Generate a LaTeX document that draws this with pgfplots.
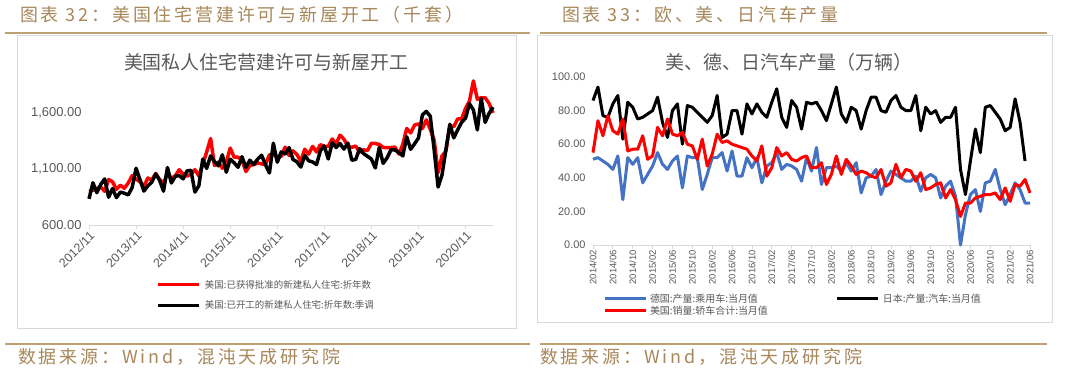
\documentclass[border=0pt]{standalone}
\usepackage{pgfplots}
\usepackage{pgfplotstable}
\pgfplotsset{compat=1.18}
\usepackage{fontspec}
\setmainfont{Liberation Sans}
\newfontfamily\cjk{Noto Sans CJK SC}
\newfontfamily\cjkhead[LetterSpace=16]{Noto Sans CJK SC}
\definecolor{gold}{HTML}{A8875A}
\definecolor{rulec}{HTML}{BFA071}
\definecolor{tgray}{HTML}{595959}
\definecolor{lgray}{HTML}{D9D9D9}
\definecolor{xblue}{HTML}{4472C4}

% US building permits (thousand units, SAAR), 2012/11 - 2021/06
\pgfplotstableread[header=false]{
900
909
925
939
900
1005
985
918
954
927
974
1039
1007
986
945
1018
1000
1059
1005
973
1057
1016
1038
1092
1052
1035
1053
1093
1038
1140
1250
1370
1130
1161
1105
1161
1285
1204
1204
1177
1076
1130
1138
1153
1144
1139
1225
1229
1201
1210
1293
1219
1260
1228
1168
1275
1230
1300
1250
1316
1298
1300
1366
1323
1400
1364
1301
1292
1303
1249
1270
1263
1328
1326
1317
1291
1288
1290
1294
1232
1317
1460
1420
1490
1500
1460
1536
1452
1356
1066
1216
1258
1483
1476
1545
1545
1639
1704
1883
1720
1733
1733
1683
1598
}\permits

% US housing starts (thousand units, SAAR), 2012/11 - 2021/06
\pgfplotstableread[header=false]{
833
976
888
962
1010
847
925
844
893
883
868
934
1105
1003
902
949
981
1055
998
901
1112
974
1034
1040
1011
1082
1087
893
949
1186
1104
1215
1165
1127
1225
1070
1186
1154
1114
1208
1113
1177
1139
1187
1221
1136
1063
1328
1159
1251
1231
1290
1184
1163
1116
1220
1172
1162
1138
1262
1304
1188
1333
1290
1326
1276
1329
1177
1184
1280
1236
1212
1187
1108
1291
1149
1199
1270
1268
1246
1215
1386
1274
1323
1375
1580
1612
1569
1269
938
1046
1273
1497
1376
1448
1514
1552
1680
1625
1447
1725
1514
1594
1650
}\starts

% Germany passenger car production, 2014/02 - 2021/06
\pgfplotstableread[header=false]{
51
52
50
48
45
53
27
52
48
52
37
42
47
55
48
45
50
53
34
53
52
52
33
42
52
52
55
44
56
41
41
52
46
52
37
47
49
55
45
48
47
45
38
52
44
58
36
46
46
47
44
49
44
49
31
40
41
45
30
38
44
42
40
38
38
41
32
40
42
40
28
35
38
29
0
18
30
33
20
37
38
45
33
24
30
37
33
25
25
}\germany

% Japan auto production, 2014/02 - 2021/05
\pgfplotstableread[header=false]{
86
94
77
76
84
89
63
85
82
75
76
78
80
88
73
64
80
84
60
83
82
79
76
73
77
89
64
66
80
80
66
84
78
84
79
76
85
93
76
70
86
82
69
85
84
85
80
74
84
94
78
73
82
80
69
80
88
88
80
79
86
89
82
80
80
89
68
82
78
80
73
76
76
82
45
30
50
69
55
82
83
79
75
68
70
87
73
50
}\japan

% US car sales, 2014/02 - 2021/06
\pgfplotstableread[header=false]{
55
74
65
77
68
66
75
56
57
57
65
51
53
70
65
75
66
65
67
60
59
51
63
47
54
66
61
62
60
59
58
57
53
50
59
41
46
58
53
55
51
50
52
53
46
46
49
36
42
53
42
51
47
42
44
43
41
40
45
35
37
48
40
45
44
38
43
33
34
36
37
28
33
27
17
25
25
28
29
30
30
31
27
34
26
36
35
39
31
}\ussales

\begin{document}
\begin{tikzpicture}[x=1bp,y=1bp]
\path[use as bounding box, fill=white] (0,0) rectangle (1080,371);
% frames
\draw[lgray, line width=0.8bp] (17,336) rectangle (516,43);
\draw[lgray, line width=0.8bp] (537,336) rectangle (1052,49);
% rules
\draw[rulec, line width=1.6bp] (5,338) -- (530,338);
\draw[rulec, line width=1.6bp] (540,338) -- (1047,338);
\draw[rulec, line width=1.6bp] (5,27) -- (530,27);
\draw[rulec, line width=1.6bp] (540,27) -- (1047,27);
% headers
\node[anchor=west, inner sep=0pt, text=gold, font=\cjkhead\fontsize{18}{18}\selectfont] at (20,356) {图表 32：美国住宅营建许可与新屋开工（千套）};
\node[anchor=west, inner sep=0pt, text=gold, font=\cjkhead\fontsize{18}{18}\selectfont] at (562,356) {图表 33：欧、美、日汽车产量};
\node[anchor=west, inner sep=0pt, text=gold, font=\cjkhead\fontsize{18}{18}\selectfont] at (18,14) {数据来源：Wind，混沌天成研究院};
\node[anchor=west, inner sep=0pt, text=gold, font=\cjkhead\fontsize{18}{18}\selectfont] at (540,14) {数据来源：Wind，混沌天成研究院};
% chart titles
\node[text=tgray, inner sep=0pt, font=\cjk\fontsize{19}{19}\selectfont] at (266,309) {美国私人住宅营建许可与新屋开工};
\node[text=tgray, inner sep=0pt, font=\cjk\fontsize{19}{19}\selectfont] at (789,309) {美、德、日汽车产量（万辆）};

\begin{axis}[
  at={(89bp,146bp)}, anchor=south west, scale only axis,
  width=404bp, height=151.6bp,
  xmin=0, xmax=103, ymin=600, ymax=1950, clip=false,
  axis x line*=bottom, axis y line*=left,
  y axis line style={draw=none},
  x axis line style={lgray, line width=0.8bp},
  ytick={600,1100,1600},
  yticklabels={{600.00},{1,100.00},{1,600.00}},
  ytick style={draw=none},
  xtick={0,12,...,96},
  xticklabels={2012/11,2013/11,2014/11,2015/11,2016/11,2017/11,2018/11,2019/11,2020/11},
  xtick style={lgray, line width=0.8bp},
  tick align=outside, major tick length=4bp,
  xticklabel style={rotate=45, anchor=north east, inner sep=1bp, font=\fontsize{12.5}{12.5}\selectfont, text=tgray},
  yticklabel style={font=\fontsize{13}{13}\selectfont, text=tgray},
  legend style={at={(0.1683,-0.3628)}, anchor=north west, draw=none, fill=none,
    inner sep=0pt, outer sep=0pt, row sep=11bp,
    font=\cjk\fontsize{9.5}{11}\selectfont, text=tgray,
    nodes={inner sep=0pt},
    /tikz/every odd column/.append style={column sep=4bp}},
  legend cell align=left,
  legend image code/.code={\draw[#1, line width=3bp] (0bp,0bp) -- (41bp,0bp);},
]
\addplot[red, line width=3.5bp, line join=round] table[x expr=\coordindex, y index=0] {\permits};
\addlegendentry{美国:已获得批准的新建私人住宅:折年数}
\addplot[black, line width=3.5bp, line join=round] table[x expr=\coordindex, y index=0] {\starts};
\addlegendentry{美国:已开工的新建私人住宅:折年数:季调}
\end{axis}

\begin{axis}[
  at={(593bp,126bp)}, anchor=south west, scale only axis,
  width=437bp, height=168bp,
  xmin=0, xmax=88, ymin=0, ymax=100, clip=false,
  axis x line*=bottom, axis y line*=left,
  y axis line style={draw=none},
  x axis line style={lgray, line width=0.8bp},
  ytick={0,20,...,100},
  yticklabels={{0.00},{20.00},{40.00},{60.00},{80.00},{100.00}},
  ytick style={draw=none},
  xtick={0,4,...,88},
  xticklabels={2014/02,2014/06,2014/10,2015/02,2015/06,2015/10,2016/02,2016/06,2016/10,2017/02,2017/06,2017/10,2018/02,2018/06,2018/10,2019/02,2019/06,2019/10,2020/02,2020/06,2020/10,2021/02,2021/06},
  xtick style={lgray, line width=0.8bp},
  tick align=outside, major tick length=4bp,
  xticklabel style={rotate=90, anchor=east, inner sep=1bp, font=\fontsize{9.5}{9.5}\selectfont, text=tgray},
  yticklabel style={font=\fontsize{11}{11}\selectfont, text=tgray},
  legend columns=2,
  legend style={at={(0.0229,-0.2917)}, anchor=north west, draw=none, fill=none,
    inner sep=0pt, outer sep=0pt, row sep=2bp,
    font=\cjk\fontsize{10}{11}\selectfont, text=tgray,
    nodes={inner sep=0pt},
    /tikz/every odd column/.append style={column sep=3bp},
    /tikz/every even column/.append style={column sep=68bp}},
  legend cell align=left,
  legend image code/.code={\draw[#1, line width=3bp] (0bp,0bp) -- (41bp,0bp);},
]
\addplot[xblue, line width=3bp, line join=round] table[x expr=\coordindex, y index=0] {\germany};
\addlegendentry{德国:产量:乘用车:当月值}
\addplot[black, line width=3bp, line join=round] table[x expr=\coordindex, y index=0] {\japan};
\addlegendentry{日本:产量:汽车:当月值}
\addplot[red, line width=3bp, line join=round] table[x expr=\coordindex, y index=0] {\ussales};
\addlegendentry{美国:销量:轿车合计:当月值}
\end{axis}
\end{tikzpicture}
\end{document}
